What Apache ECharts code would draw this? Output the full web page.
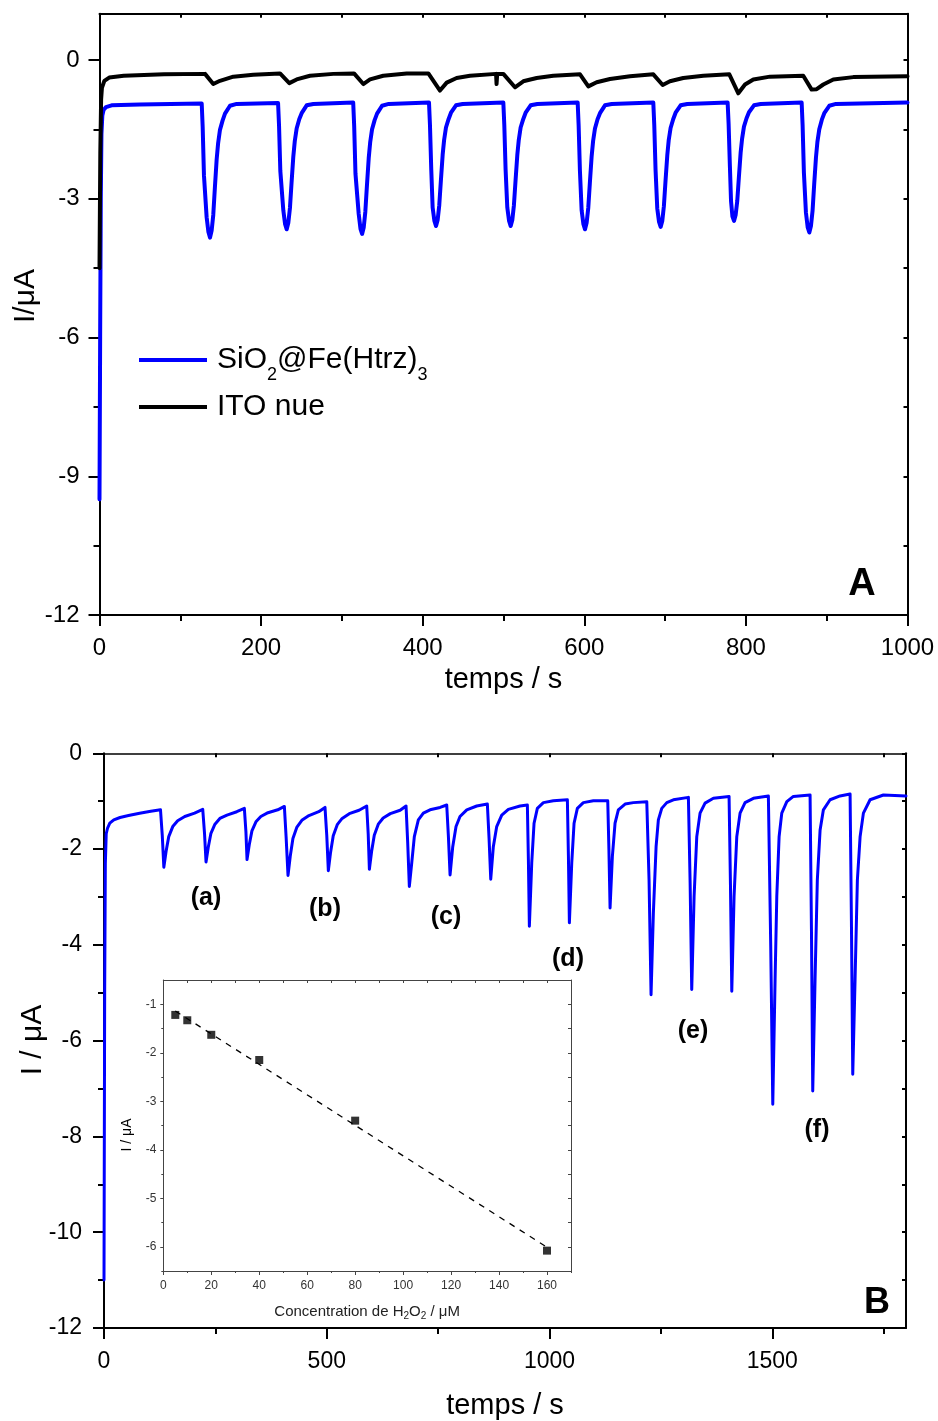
<!DOCTYPE html>
<html><head><meta charset="utf-8">
<script src="https://cdn.jsdelivr.net/npm/echarts@6/dist/echarts.min.js"></script>
<style>html,body{margin:0;padding:0;background:#fff}#c{width:938px;height:1421px}</style>
</head><body><div id="c"></div>
<script>
// ---------------- DATA ----------------
// Panel A : chronoamperometry, time (s) / current (µA)
const seriesNamesA = ['SiO2@Fe(Htrz)3', 'ITO nue'];
const panelA_SiO2 = [
  [0,-9.5],[0.8,-6.0],[1.6,-3.0],[2.4,-1.6],[3.5,-1.2],[5,-1.08],[8,-1.02],[15,-0.98],[50,-0.96],[126.5,-0.94],
  [127.7,-1.45],[129.3,-2.50],[132.6,-3.40],[134.8,-3.72],[136.8,-3.84],[138.8,-3.69],[140.8,-3.35],[142.8,-2.76],[145,-2.15],[146.8,-1.80],[149.1,-1.51],[152.3,-1.31],[155.3,-1.16],[161.5,-0.99],[169.8,-0.95],[221,-0.93],
  [222.2,-1.42],[223.8,-2.40],[227.5,-3.25],[229.7,-3.55],[231.7,-3.66],[233.7,-3.52],[235.7,-3.20],[237.7,-2.65],[239.9,-2.08],[241.7,-1.75],[244,-1.48],[247.2,-1.28],[250.2,-1.15],[256.4,-0.98],[264.7,-0.95],[314,-0.92],
  [315.2,-1.43],[316.8,-2.46],[320.8,-3.33],[323,-3.65],[325,-3.76],[327,-3.62],[329,-3.28],[331,-2.71],[333.2,-2.12],[335,-1.78],[337.3,-1.50],[340.5,-1.30],[343.5,-1.16],[349.7,-0.99],[358,-0.95],[407.8,-0.92],
  [409,-1.41],[410.6,-2.37],[412.3,-3.19],[414.5,-3.48],[416.5,-3.59],[418.5,-3.46],[420.5,-3.14],[422.5,-2.61],[424.7,-2.05],[426.5,-1.73],[428.8,-1.46],[432,-1.28],[435,-1.14],[441.2,-0.98],[449.5,-0.95],[499.8,-0.92],
  [501,-1.41],[502.6,-2.37],[504.7,-3.19],[506.9,-3.48],[508.9,-3.59],[510.9,-3.46],[512.9,-3.14],[514.9,-2.61],[517.1,-2.05],[518.9,-1.73],[521.2,-1.46],[524.4,-1.28],[527.4,-1.14],[533.6,-0.98],[541.9,-0.95],[591.8,-0.92],
  [593,-1.42],[594.6,-2.40],[596.7,-3.25],[598.9,-3.55],[600.9,-3.66],[602.9,-3.52],[604.9,-3.20],[606.9,-2.65],[609.1,-2.08],[610.9,-1.75],[613.2,-1.48],[616.4,-1.28],[619.4,-1.15],[625.6,-0.98],[633.9,-0.95],[685.4,-0.92],
  [686.6,-1.41],[688.2,-2.38],[690.3,-3.21],[692.5,-3.50],[694.5,-3.61],[696.5,-3.48],[698.5,-3.16],[700.5,-2.62],[702.7,-2.06],[704.5,-1.73],[706.8,-1.47],[710,-1.28],[713,-1.14],[719.2,-0.98],[727.5,-0.95],[777.4,-0.92],
  [778.6,-1.38],[780.2,-2.30],[781.6,-3.05],[783.3,-3.38],[785.3,-3.48],[787.3,-3.35],[789.3,-3.05],[791.3,-2.54],[793.5,-2.00],[795.3,-1.70],[797.6,-1.44],[800.8,-1.26],[803.8,-1.13],[810,-0.98],[818.3,-0.95],[869,-0.92],
  [870.2,-1.42],[871.8,-2.44],[874.3,-3.30],[876.5,-3.62],[878.5,-3.73],[880.5,-3.59],[882.5,-3.26],[884.5,-2.69],[886.7,-2.11],[888.5,-1.77],[890.8,-1.50],[894,-1.29],[897,-1.15],[903.2,-0.99],[911.5,-0.95],[1000,-0.92]
];
const panelA_ITO = [
  [0,-4.5],[1,-2.0],[2,-0.85],[3,-0.6],[6,-0.45],[12,-0.38],[30,-0.34],[80,-0.31],[130.6,-0.30],
  [140.8,-0.52],[149.1,-0.45],[165.6,-0.36],[190.3,-0.32],[223.4,-0.29],
  [234.9,-0.50],[244,-0.42],[260.5,-0.34],[289.4,-0.30],[315,-0.29],
  [326.5,-0.52],[334.8,-0.42],[351.2,-0.34],[380.2,-0.29],[407,-0.29],
  [421.4,-0.66],[429.7,-0.49],[442,-0.39],[458.5,-0.34],[490.8,-0.30],[491.4,-0.52],[492.2,-0.30],[499.8,-0.30],
  [514.2,-0.59],[524.5,-0.46],[541,-0.39],[561.6,-0.34],[594.7,-0.31],
  [605,-0.57],[615.3,-0.48],[631.8,-0.41],[656.6,-0.35],[685.4,-0.31],
  [697,-0.54],[706,-0.46],[722.5,-0.39],[747.3,-0.34],[779.5,-0.31],
  [790.6,-0.72],[798.9,-0.53],[809.2,-0.42],[829.8,-0.36],[871,-0.34],
  [881.4,-0.64],[887.6,-0.63],[895.8,-0.53],[908.2,-0.42],[932.9,-0.37],[1000,-0.35]
];
// Panel B : successive H2O2 additions
const panelB_SiO2 = [
  [0,-11.0],[1.5,-5.0],[3,-2.3],[5,-1.68],[8,-1.56],[13,-1.46],[22,-1.39],[36,-1.34],[55,-1.30],[80,-1.25],[105,-1.21],[126.8,-1.18],
  [130.8,-1.72],[134.3,-2.38],[139.3,-2.05],[145.3,-1.74],[154.3,-1.53],[165.3,-1.41],[181.3,-1.32],[203.3,-1.25],[221.6,-1.17],
  [225.6,-1.67],[229,-2.27],[234,-1.96],[240,-1.67],[249,-1.48],[260,-1.36],[276,-1.29],[298,-1.22],[315,-1.15],
  [318.5,-1.63],[321,-2.22],[326,-1.91],[332,-1.62],[341,-1.43],[352,-1.32],[368,-1.24],[390,-1.18],[404.8,-1.11],
  [408.8,-1.76],[413,-2.55],[418,-2.15],[424,-1.78],[433,-1.54],[444,-1.40],[460,-1.30],[482,-1.22],[496,-1.13],
  [500,-1.72],[503.5,-2.45],[508.5,-2.07],[514.5,-1.72],[523.5,-1.49],[534.5,-1.36],[550.5,-1.26],[572.5,-1.19],[589.6,-1.10],
  [593,-1.69],[595.6,-2.42],[600.6,-2.05],[606.6,-1.71],[615.6,-1.48],[626.6,-1.35],[642.6,-1.26],[664.6,-1.19],[677.9,-1.10],
  [681.6,-1.86],[685.3,-2.78],[690.7,-2.29],[696.5,-1.74],[705.5,-1.39],[716.7,-1.25],[731.8,-1.18],[754.2,-1.13],[769.2,-1.08],
  [773,-1.74],[776.7,-2.54],[782.7,-1.95],[790.1,-1.53],[799,-1.32],[814.2,-1.18],[836.6,-1.10],[860.4,-1.06],
  [864.2,-1.77],[868,-2.63],[873.8,-1.95],[881.4,-1.53],[892.7,-1.29],[907.5,-1.17],[933.8,-1.10],[950.2,-1.08],
  [952.5,-2.22],[954.7,-3.61],[960,-2.29],[965.2,-1.46],[972.6,-1.15],[986.1,-1.03],[1008.5,-0.99],[1040,-0.97],
  [1042.3,-2.13],[1044.5,-3.54],[1049.8,-2.29],[1055,-1.46],[1062.4,-1.15],[1075.8,-1.03],[1098.3,-0.99],[1130.6,-0.99],
  [1133.2,-2.0],[1135.8,-3.23],[1141,-2.15],[1147,-1.46],[1154.4,-1.18],[1169.5,-1.06],[1188,-1.03],[1218.2,-1.01],
  [1223.3,-2.64],[1227.8,-5.04],[1233,-3.33],[1239.1,-1.95],[1244.2,-1.39],[1251.8,-1.15],[1263.1,-1.03],[1277.9,-0.97],[1311.6,-0.92],
  [1315.5,-2.71],[1319.1,-4.93],[1324.4,-2.99],[1330.4,-1.74],[1337.8,-1.25],[1349,-1.04],[1367.7,-0.94],[1402.9,-0.90],
  [1406,-2.73],[1409,-4.97],[1414.1,-2.99],[1420.2,-1.74],[1427.6,-1.25],[1438.8,-1.03],[1457.5,-0.94],[1491.1,-0.89],
  [1496.4,-4.03],[1501,-7.33],[1506.2,-4.72],[1510,-2.99],[1515.2,-1.74],[1521.2,-1.25],[1532.5,-1.01],[1547.2,-0.90],[1584.7,-0.87],
  [1587.8,-3.68],[1590.7,-7.05],[1595.9,-4.72],[1601,-2.64],[1607.2,-1.60],[1614.6,-1.18],[1629.6,-0.97],[1652,-0.89],[1674.5,-0.85],
  [1677.5,-3.5],[1680.5,-6.70],[1685.7,-4.72],[1690.9,-2.64],[1697,-1.74],[1704.4,-1.25],[1719.4,-0.97],[1749.3,-0.87],[1800,-0.89]
];
const additionLabels = ['(a)', '(b)', '(c)', '(d)', '(e)', '(f)'];
// Inset : calibration
const insetConc = [5, 10, 20, 40, 80, 160];
const insetCurrent = [-1.22, -1.33, -1.63, -2.15, -3.40, -6.08];
const fitConc = [5, 160];
const fitCurrent = [-1.14, -6.01];
// Tick values
const A_xMajor = [0, 200, 400, 600, 800, 1000];
const A_xMinor = [100, 300, 500, 700, 900];
const A_yMajor = [-12, -9, -6, -3, 0];
const A_yMinor = [-10.5, -7.5, -4.5, -1.5];
const B_xMajor = [0, 500, 1000, 1500];
const B_xMinor = [250, 750, 1250, 1750];
const B_yMajor = [-12, -10, -8, -6, -4, -2, 0];
const B_yMinor = [-11, -9, -7, -5, -3, -1];
const I_xMajor = [0, 20, 40, 60, 80, 100, 120, 140, 160];
const I_xMinor = [10, 30, 50, 70, 90, 110, 130, 150, 170];
const I_yMajor = [-6, -5, -4, -3, -2, -1];
const I_yMinor = [-6.5, -5.5, -4.5, -3.5, -2.5, -1.5];

// ---------------- CHART ----------------
const FONT = '"Liberation Sans", Arial, Helvetica, sans-serif';
const chart = echarts.init(document.getElementById('c'), null, {renderer: 'canvas'});

function axis(dim, gi, min, max, o) {
  return {
    type: 'value', gridIndex: gi, min: min, max: max,
    position: o.pos,
    axisLine: {show: !!o.line, onZero: false, lineStyle: {color: o.color || '#000', width: o.lw || 2}},
    axisTick: o.ticks ? {show: true, inside: !!o.inside, length: o.tlen, customValues: o.ticks,
      lineStyle: {color: o.color || '#000', width: o.tw || 2}} : {show: false},
    axisLabel: o.labels ? {show: true, customValues: o.labels, margin: o.margin, fontSize: o.fs,
      color: o.lcolor || '#000', fontFamily: FONT, formatter: v => String(v)} : {show: false},
    splitLine: {show: false}, minorTick: {show: false},
    name: o.name || '', nameLocation: 'middle', nameGap: o.nameGap || 0,
    nameTextStyle: o.nameStyle || {}
  };
}

const xAxes = [
  // panel A
  axis('x', 0, 0, 1000, {pos: 'bottom', line: 1, ticks: A_xMajor, tlen: 11, labels: A_xMajor, margin: 21, fs: 24,
    name: 'temps / s', nameGap: 50, nameStyle: {fontSize: 29, color: '#000', fontFamily: FONT}}),
  axis('x', 0, 0, 1000, {pos: 'bottom', ticks: A_xMinor, tlen: 6}),
  axis('x', 0, 0, 1000, {pos: 'top', line: 1, ticks: A_xMajor.concat(A_xMinor), tlen: 4, inside: true}),
  // panel B
  axis('x', 1, 0, 1800, {pos: 'bottom', line: 1, ticks: B_xMajor, tlen: 11, labels: B_xMajor, margin: 22, fs: 23,
    name: 'temps / s', nameGap: 63, nameStyle: {fontSize: 29, color: '#000', fontFamily: FONT}}),
  axis('x', 1, 0, 1800, {pos: 'bottom', ticks: B_xMinor, tlen: 6}),
  axis('x', 1, 0, 1800, {pos: 'top', line: 1, lw: 1.5, ticks: B_xMajor.concat(B_xMinor), tlen: 4, inside: true}),
  // inset
  axis('x', 2, 0, 170, {pos: 'bottom', line: 1, lw: 1, color: '#444', ticks: I_xMajor, tlen: 4, tw: 1, labels: I_xMajor,
    margin: 9, fs: 12, lcolor: '#333',
    name: 'Concentration de H{s|2}O{s|2} / μM', nameGap: 31,
    nameStyle: {fontSize: 15, color: '#222', fontFamily: FONT,
      rich: {s: {fontSize: 10, color: '#222', fontFamily: FONT, padding: [9, 0, 0, 0]}}}}),
  axis('x', 2, 0, 170, {pos: 'bottom', color: '#444', ticks: I_xMinor, tlen: 2, tw: 1}),
  axis('x', 2, 0, 170, {pos: 'top', line: 1, lw: 1, color: '#444', ticks: I_xMajor.concat(I_xMinor), tlen: 3, tw: 1, inside: true})
];
const yAxes = [
  axis('y', 0, -12, 1, {pos: 'left', line: 1, ticks: A_yMajor, tlen: 11, labels: A_yMajor, margin: 20, fs: 24}),
  axis('y', 0, -12, 1, {pos: 'left', ticks: A_yMinor, tlen: 6}),
  axis('y', 0, -12, 1, {pos: 'right', line: 1, ticks: A_yMajor.concat(A_yMinor), tlen: 4, inside: true}),
  axis('y', 1, -12, 0, {pos: 'left', line: 1, ticks: B_yMajor, tlen: 11, labels: B_yMajor, margin: 22, fs: 23}),
  axis('y', 1, -12, 0, {pos: 'left', ticks: B_yMinor, tlen: 6}),
  axis('y', 1, -12, 0, {pos: 'right', line: 1, ticks: B_yMajor.concat(B_yMinor), tlen: 4, inside: true}),
  axis('y', 2, -6.5, -0.5, {pos: 'left', line: 1, lw: 1, color: '#444', ticks: I_yMajor, tlen: 3, tw: 1, labels: I_yMajor,
    margin: 7, fs: 12, lcolor: '#333'}),
  axis('y', 2, -6.5, -0.5, {pos: 'left', color: '#444', ticks: I_yMinor, tlen: 2, tw: 1}),
  axis('y', 2, -6.5, -0.5, {pos: 'right', line: 1, lw: 1, color: '#444', ticks: I_yMajor.concat(I_yMinor), tlen: 3, tw: 1, inside: true})
];

function txt(x, y, text, size, bold, rot) {
  return {type: 'text', x: x, y: y, rotation: rot || 0, z: 100,
    style: {text: text, fill: '#000', fontSize: size, fontWeight: bold ? 'bold' : 'normal', fontFamily: FONT,
      align: 'center', verticalAlign: 'middle', textAlign: 'center', textVerticalAlign: 'middle'}};
}
const labelPos = [[206, 898], [325, 909], [446, 917], [568, 959], [693, 1031], [817, 1130]];
const graphics = [
  txt(26, 296, 'I/μA', 30, false, Math.PI / 2),
  txt(33, 1040, 'I / μA', 30, false, Math.PI / 2),
  txt(127.5, 1135, 'I / μA', 14, false, Math.PI / 2),
  txt(862, 585, 'A', 38, true),
  txt(877, 1303, 'B', 36, true)
].concat(additionLabels.map((s, i) => txt(labelPos[i][0], labelPos[i][1], s, 25, true)));

const legendBase = {
  orient: 'vertical', left: 139, icon: 'rect', itemWidth: 68, itemHeight: 4, padding: 0, selectedMode: false,
  textStyle: {fontSize: 30, color: '#000', fontFamily: FONT, padding: [0, 0, 0, 5],
    rich: {sub: {fontSize: 18, color: '#000', fontFamily: FONT, padding: [30, 0, 0, 0]}}}
};

const option = {
  animation: false,
  backgroundColor: '#fff',
  grid: [
    {left: 99.5, top: 13.75, width: 808, height: 601.25},
    {left: 104, top: 753.3, width: 802, height: 576},
    {left: 163.3, top: 980, width: 407.7, height: 291}
  ],
  xAxis: xAxes,
  yAxis: yAxes,
  legend: [
    Object.assign({}, legendBase, {top: 345, data: [seriesNamesA[0]],
      formatter: () => 'SiO{sub|2}@Fe(Htrz){sub|3}'}),
    Object.assign({}, legendBase, {top: 392, data: [seriesNamesA[1]]})
  ],
  graphic: graphics,
  series: [
    {name: seriesNamesA[0], type: 'line', xAxisIndex: 0, yAxisIndex: 0, data: panelA_SiO2, showSymbol: false,
      symbol: 'none', color: '#0000ff', lineStyle: {color: '#0000ff', width: 4, join: 'round', cap: 'round'}, z: 3},
    {name: seriesNamesA[1], type: 'line', xAxisIndex: 0, yAxisIndex: 0, data: panelA_ITO, showSymbol: false,
      symbol: 'none', color: '#000', lineStyle: {color: '#000', width: 4, join: 'round', cap: 'round'}, z: 4},
    {name: 'B', type: 'line', xAxisIndex: 3, yAxisIndex: 3, data: panelB_SiO2, showSymbol: false,
      symbol: 'none', color: '#0000ff', lineStyle: {color: '#0000ff', width: 3, join: 'round', cap: 'round'}, z: 3},
    {name: 'fit', type: 'line', xAxisIndex: 6, yAxisIndex: 6,
      data: fitConc.map((c, i) => [c, fitCurrent[i]]), showSymbol: false, symbol: 'none',
      lineStyle: {color: '#000', width: 1.3, type: [6, 6]}, z: 3},
    {name: 'calib', type: 'scatter', xAxisIndex: 6, yAxisIndex: 6,
      data: insetConc.map((c, i) => [c, insetCurrent[i]]), symbol: 'rect', symbolSize: 8,
      itemStyle: {color: '#000'}, z: 4}
  ]
};
chart.setOption(option);
</script></body></html>
